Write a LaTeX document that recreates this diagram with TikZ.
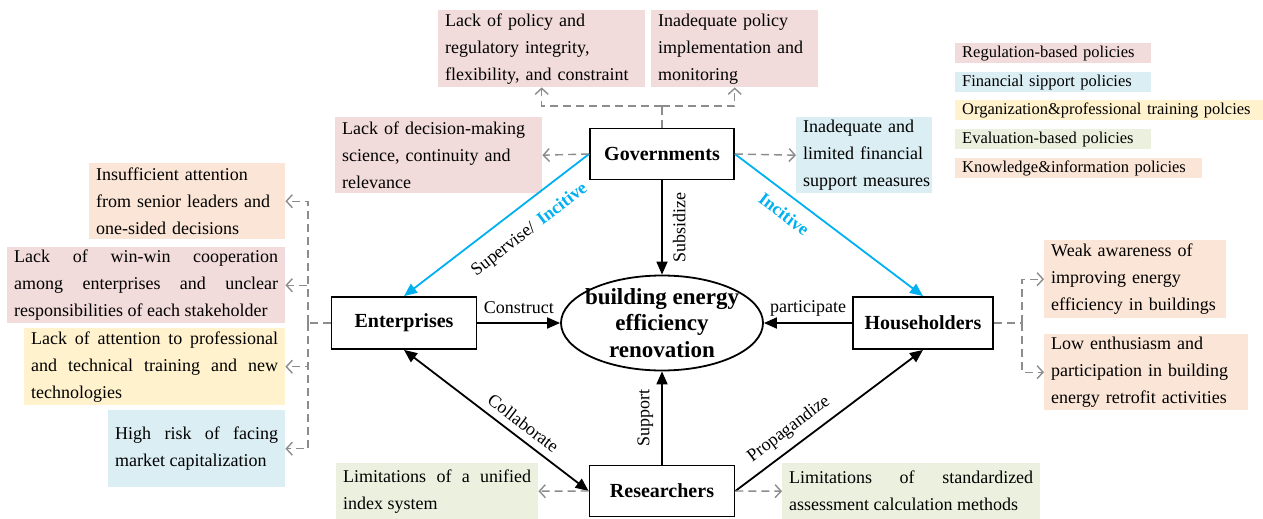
\documentclass[tikz,border=0pt]{standalone}
\usepackage{fontspec}
\setmainfont{Liberation Serif}
\usetikzlibrary{arrows.meta,shapes.geometric}
\definecolor{cpink}{HTML}{F2DCDB}
\definecolor{cblue}{HTML}{DAEEF3}
\definecolor{cyell}{HTML}{FFF2CC}
\definecolor{cgreen}{HTML}{EBF1DE}
\definecolor{cpeach}{HTML}{FBE5D6}
\definecolor{ccyan}{HTML}{00B0F0}
\definecolor{cgray}{HTML}{8C8C8C}
\newcommand{\oneln}[1]{\mbox{#1}}
\begin{document}
\begin{tikzpicture}[x=1pt,y=-1pt]
\tikzset{
 actor/.style={draw, line width=1.8pt, inner sep=0pt, font=\fontsize{20}{24}\selectfont\bfseries},
 note/.style={anchor=north west, inner xsep=7pt, inner ysep=0pt, font=\fontsize{18}{27}\selectfont},
 leg/.style={anchor=north west, inner xsep=7pt, inner ysep=0pt, minimum height=20pt, font=\fontsize{16.5}{20}\selectfont, align=left},
 lbl/.style={inner sep=2pt, font=\fontsize{18}{22}\selectfont},
 blk/.style={line width=1.8pt, -{Triangle[length=13pt,width=11pt]}},
 dbl/.style={line width=1.8pt, {Triangle[length=13pt,width=11pt]}-{Triangle[length=13pt,width=11pt]}},
 cyarr/.style={draw=ccyan, line width=1.8pt},
 dsh/.style={draw=cgray, line width=1.4pt, dash pattern=on 8pt off 5pt},
 dsharr/.style={dsh, -{Straight Barb[length=6pt,width=13pt]}},
}
\useasboundingbox (0,0) rectangle (1263,519);

% legend
\node[leg, fill=cpink, text width=182pt] (l1) at (955,43) {Regulation-based policies};
\node[leg, fill=cblue, text width=182pt] (l2) at (955,72) {Financial sipport policies};
\node[leg, fill=cyell, text width=294pt] (l3) at (955,100) {Organization\&professional training polcies};
\node[leg, fill=cgreen, text width=182pt] (l4) at (955,129) {Evaluation-based policies};
\node[leg, fill=cpeach, text width=233pt] (l5) at (955,158) {Knowledge\&information policies};

% notes
\node[note, fill=cpink, text width=193pt, minimum height=77pt, align=left] (pol1) at (438,10)
  {\oneln{Lack of policy and}\\\oneln{regulatory integrity,}\\\oneln{flexibility, and constraint}};
\node[note, fill=cpink, text width=153pt, minimum height=77pt, align=left] (pol2) at (651,10)
  {\oneln{Inadequate policy}\\\oneln{implementation and}\\\oneln{monitoring}};
\node[note, fill=cpink, text width=193pt, minimum height=76pt, align=left] (dec) at (335,117)
  {\oneln{Lack of decision-making}\\\oneln{science, continuity and}\\\oneln{relevance}};
\node[note, fill=cblue, text width=122pt, minimum height=76pt, align=left] (fin) at (796,117)
  {\oneln{Inadequate and}\\\oneln{limited financial}\\\oneln{support measures}};
\node[note, fill=cpeach, text width=182pt, minimum height=76pt, align=left] (ins) at (89,163)
  {\oneln{Insufficient attention}\\\oneln{from senior leaders and}\\\oneln{one-sided decisions}};
\node[note, fill=cpink, text width=264pt, minimum height=76pt, align=justify] (win) at (7,247)
  {Lack of win-win cooperation\linebreak among enterprises and unclear\linebreak \oneln{responsibilities of each stakeholder}};
\node[note, fill=cyell, text width=247pt, minimum height=77pt, align=justify] (att) at (24,328)
  {Lack of attention to professional\linebreak and technical training and new\linebreak technologies};
\node[note, fill=cblue, text width=163pt, minimum height=77pt, align=justify] (risk) at (108,410)
  {High risk of facing\linebreak \oneln{market capitalization}};
\node[note, fill=cpeach, text width=168pt, minimum height=78pt, align=left] (weak) at (1044,240)
  {\oneln{Weak awareness of}\\\oneln{improving energy}\\\oneln{efficiency in buildings}};
\node[note, fill=cpeach, text width=190pt, minimum height=76pt, align=left] (low) at (1044,334)
  {\oneln{Low enthusiasm and}\\\oneln{participation in building}\\\oneln{energy retrofit activities}};
\node[note, fill=cgreen, text width=188pt, minimum height=56pt, align=justify] (lim1) at (336,463)
  {Limitations of a unified\linebreak index system};
\node[note, fill=cgreen, text width=244pt, minimum height=56pt, align=justify] (lim2) at (782,463)
  {Limitations of standardized\linebreak \oneln{assessment calculation methods}};

% actors
\node[actor, minimum width=144pt, minimum height=51pt] (gov) at (662,154) {Governments};
\node[actor, minimum width=145pt, minimum height=52pt] (ent) at (404,323) {Enterprises};
\node[actor, minimum width=140pt, minimum height=52pt] (hou) at (923,323) {Householders};
\node[actor, minimum width=145pt, minimum height=51pt] (res) at (662,491) {Researchers};
\node[draw, ellipse, line width=1.8pt, minimum width=202pt, minimum height=95pt, inner sep=0pt] (ell) at (662,323) {};
\node[align=center, inner sep=0pt, font=\fontsize{23}{26.5}\selectfont\bfseries] (ellt) at (ell.center) {building energy\\efficiency\\renovation};

% solid connectors
\draw[cyarr, {Triangle[length=13pt,width=11pt]}-] (ent.north) -- (gov.west)
  node[lbl, pos=0.6, sloped, below=13pt] {Supervise/\hspace{7pt}\textcolor{ccyan}{\textbf{Incitive}}};
\draw[cyarr, -{Triangle[length=13pt,width=11pt]}] (gov.east) -- (hou.north)
  node[lbl, pos=0.32, sloped, below=9pt, text=ccyan, font=\fontsize{18}{22}\selectfont\bfseries] {Incitive};
\draw[blk] (gov.south) -- (ell.north)
  node[lbl, midway, rotate=90, anchor=north, yshift=-8pt] {Subsidize};
\draw[blk] (ent.east) -- (ell.west) node[lbl, midway, above=6pt] {Construct};
\draw[blk] (hou.west) -- (ell.east) node[lbl, midway, above=4pt] {participate};
\draw[blk] (res.north) -- (ell.south)
  node[lbl, midway, rotate=90, anchor=south, yshift=6pt] {Support};
\draw[dbl] (ent.south) -- (res.west) node[lbl, pos=0.6, sloped, above=5pt] {Collaborate};
\draw[blk] (res.east) -- (hou.south) node[lbl, pos=0.34, sloped, above=6pt] {Propagandize};

% dashed connectors
\coordinate (gv) at (662,106);
\draw[dsh] (gov.north) -- (gv);
\draw[dsharr] (gv) -| (pol1.south);
\draw[dsharr] (gv) -| (pol2.south);
\draw[dsharr] (gov.west) -- (dec.east);
\draw[dsharr] (gov.east) -- (fin.west);
\coordinate (ej) at (308,323);
\draw[dsh] (ent.west) -- (ej);
\draw[dsharr] (ej) |- (ins.east);
\draw[dsharr] (ej) |- (win.east);
\draw[dsharr] (ej) |- (att.east);
\draw[dsharr] (ej) |- (risk.east);
\coordinate (hj) at (1022,323);
\draw[dsh] (hou.east) -- (hj);
\draw[dsharr] (hj) |- (weak.west);
\draw[dsharr] (hj) |- (low.west);
\draw[dsharr] (res.west) -- (lim1.east);
\draw[dsharr] (res.east) -- (lim2.west);
\end{tikzpicture}
\end{document}
